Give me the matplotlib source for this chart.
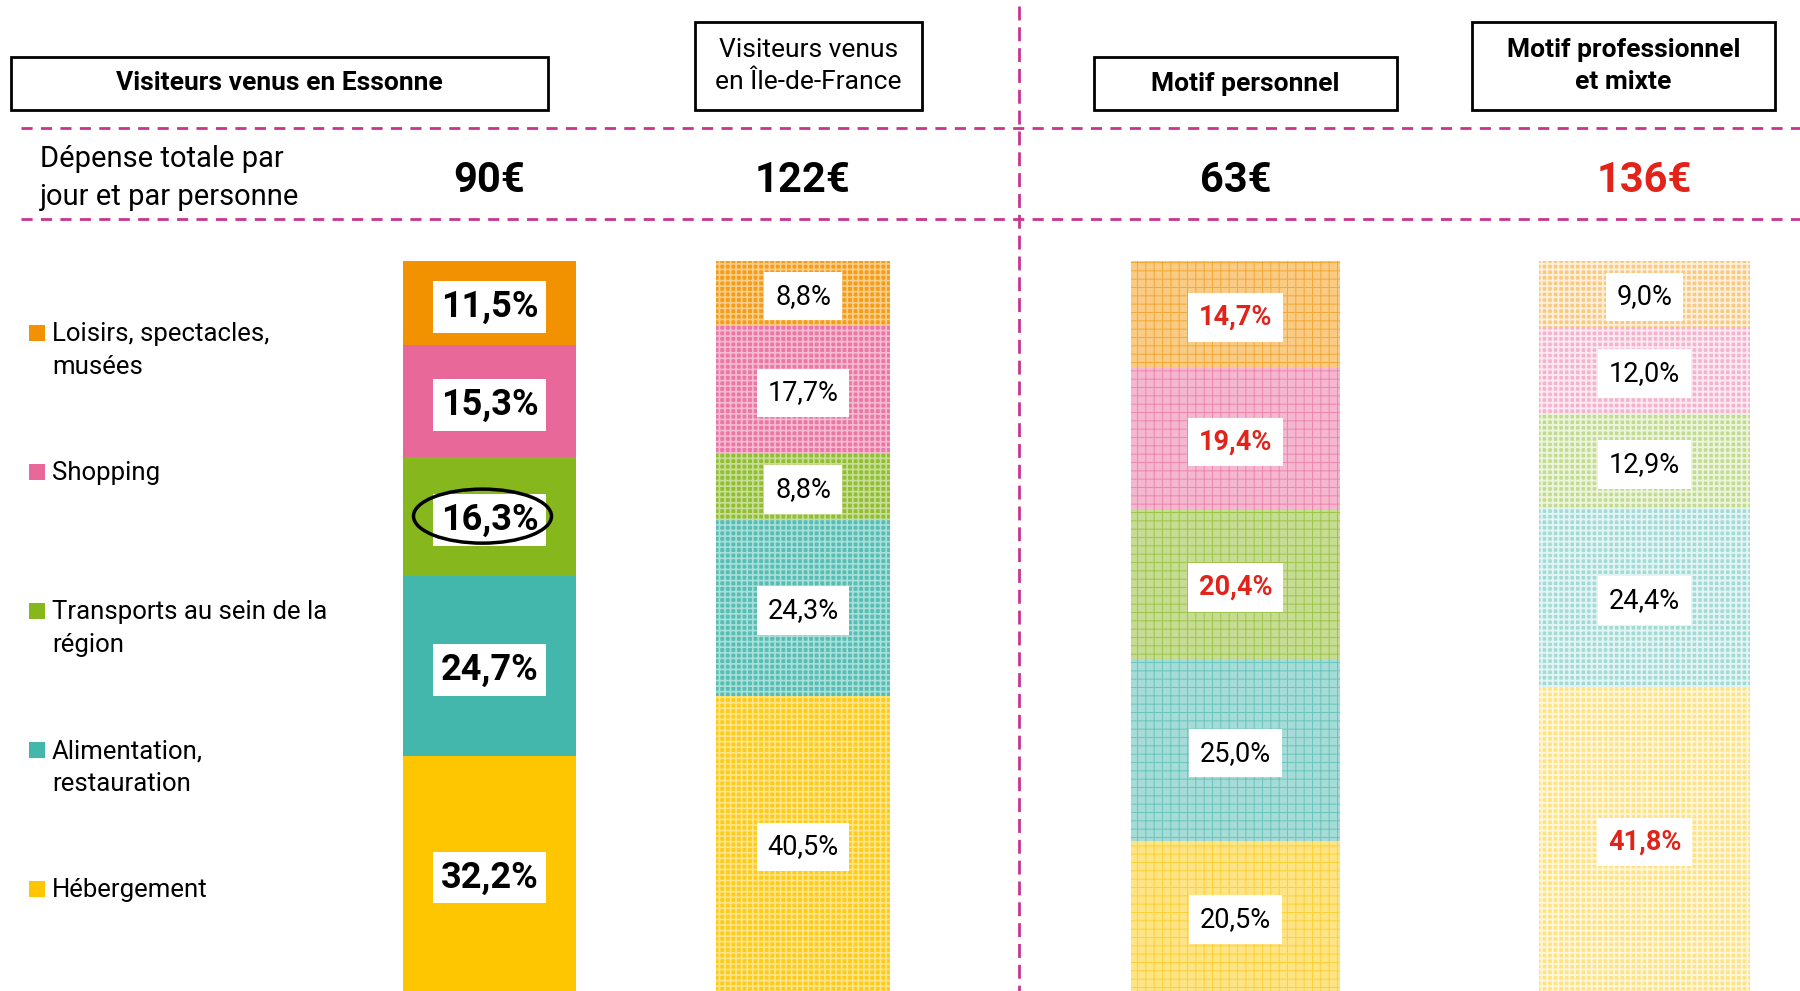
import matplotlib.pyplot as plt
from matplotlib.patches import Rectangle, Ellipse
from matplotlib.colors import to_rgb
import numpy as np

plt.rcParams['font.family'] = ['Roboto', 'DejaVu Sans']

# data
categories = ['Loisirs, spectacles,\nmusées', 'Shopping',
              'Transports au sein de la\nrégion', 'Alimentation,\nrestauration',
              'Hébergement']
colors = ['#F39200', '#E9689A', '#86B71C', '#43B7AC', '#FDC600']
groups = ['Visiteurs venus en Essonne', 'Visiteurs venus\nen Île-de-France',
          'Motif personnel', 'Motif professionnel\net mixte']
group_bold = [True, False, True, True]
totals = ['90€', '122€', '63€', '136€']
total_red = [False, False, False, True]

essonne = [11.5, 15.3, 16.3, 24.7, 32.2]
idf = [8.8, 17.7, 8.8, 24.3, 40.5]
perso = [14.7, 19.4, 20.4, 25.0, 20.5]
pro = [9.0, 12.0, 12.9, 24.4, 41.8]
shares = [essonne, idf, perso, pro]
red_labels = [[0, 0, 0, 0, 0], [0, 0, 0, 0, 0], [1, 1, 1, 0, 0], [0, 0, 0, 0, 1]]

# layout (figure pixels, 1800 x 991)
W, H = 1800, 991
xpos = [489.5, 803, 1235.5, 1644.5]
widths = [173, 174, 209, 211]
boxes = [(11, 57, 537, 53), (695, 22, 227, 88), (1094, 57, 303, 53), (1472, 22, 303, 88)]
legend_base = [341, 480, 619, 758, 897]
LEG_STEP = 33
MAGENTA = '#C9348F'
RED = '#E2231A'


def tint(c, f):
    r = np.array(to_rgb(c))
    return tuple(f * r + (1 - f))


fig = plt.figure(figsize=(18, 9.91), dpi=100)

# header / legend layer in pixel coordinates
bg = fig.add_axes([0, 0, 1, 1])
bg.set_xlim(0, W)
bg.set_ylim(H, 0)
bg.axis('off')

for y in [128, 219]:
    bg.plot([21, W], [y, y], color=MAGENTA, lw=2, ls=(0, (4, 3)))
bg.plot([1019, 1019], [6, H], color=MAGENTA, lw=2, ls=(0, (5, 2.5)))

for (x0, y0, w, h), g, bold in zip(boxes, groups, group_bold):
    bg.add_patch(Rectangle((x0, y0), w, h, fc='white', ec='black', lw=2))
    bg.text(x0 + w / 2, y0 + h / 2, g, ha='center', va='center', fontsize=19,
            fontweight='bold' if bold else 'normal', linespacing=1.45)

bg.text(40, 178, 'Dépense totale par\njour et par personne', ha='left', va='center',
        fontsize=21, linespacing=1.45)
for x, t, red in zip(xpos, totals, total_red):
    bg.text(x, 180, t, ha='center', va='center', fontsize=30, fontweight='bold',
            color=RED if red else 'black')

for yb, cat, c in zip(legend_base, categories, colors):
    bg.add_patch(Rectangle((29, yb - 16), 16, 16, fc=c, ec='none'))
    n = cat.count('\n')
    bg.text(52, yb + n * LEG_STEP, cat, ha='left', va='baseline', fontsize=18.5,
            linespacing=1.45)

# bars
ax = fig.add_axes([0, 0, 1, (H - 261) / H])
ax.set_xlim(0, W)
ax.set_ylim(0, 100)
ax.axis('off')

for j, vals in enumerate(shares):
    vals = np.array(vals)
    tops = 100 - np.concatenate([[0], np.cumsum(vals)[:-1]])
    bottoms = tops - vals
    for i, v in enumerate(vals):
        base = colors[i]
        if j == 0:
            fc, ec, hatch, hlw = base, base, None, 1
        elif j == 1:
            fc, ec, hatch, hlw = tint(base, 0.9), tint(base, 0.45), '+++', 1.2
        elif j == 2:
            fc, ec, hatch, hlw = tint(base, 0.48), tint(base, 0.8), '++', 0.7
        else:
            fc, ec, hatch, hlw = tint(base, 0.5), tint(base, 0.15), '+++', 1.4
        bars = ax.bar(xpos[j], v, width=widths[j], bottom=bottoms[i], color=fc,
                      edgecolor=ec, hatch=hatch, linewidth=0)
        if hatch and hasattr(bars[0], 'set_hatch_linewidth'):
            bars[0].set_hatch_linewidth(hlw)

        label = f'{v:.1f}'.replace('.', ',') + '%'
        if j == 0:
            ax.text(xpos[j], bottoms[i] + v / 2, label, ha='center', va='center_baseline',
                    fontsize=26, fontweight='bold', zorder=4,
                    bbox=dict(boxstyle='square,pad=0.22', fc='white', ec='none'))
        else:
            red = red_labels[j][i]
            ax.text(xpos[j], bottoms[i] + v / 2, label, ha='center', va='center_baseline',
                    fontsize=19.5, fontweight='bold' if red else 'normal',
                    color=RED if red else 'black', zorder=4,
                    bbox=dict(boxstyle='square,pad=0.4', fc='white', ec='none'))

# highlight around transports share for Essonne
y_tr = 100 - sum(essonne[:2]) - essonne[2] / 2
ax.add_patch(Ellipse((xpos[0] - 7, y_tr), 138, 7.4, fill=False, ec='black', lw=2.5, zorder=5))

fig.savefig('out.png', dpi=100)
